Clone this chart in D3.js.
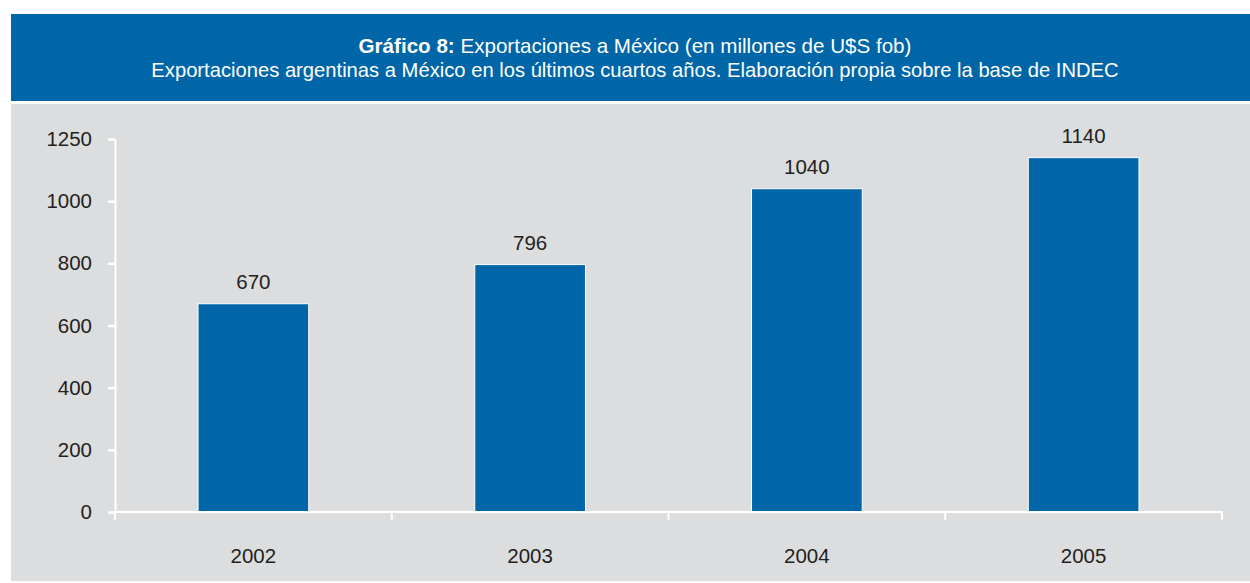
<!DOCTYPE html>
<html>
<head>
<meta charset="utf-8">
<script src="https://cdn.jsdelivr.net/npm/d3@7"></script>
<style>
  html, body { margin: 0; padding: 0; background: #ffffff; }
  svg { display: block; font-family: "Liberation Sans", Arial, Helvetica, sans-serif; }
</style>
</head>
<body>
<svg id="chart" width="1250" height="583"></svg>
<script>
// Exportaciones argentinas a México, millones de U$S fob
const years = ["2002", "2003", "2004", "2005"];
const exportValues = [670, 796, 1040, 1140];

// Value axis ticks (the top tick is labelled 1250)
const yTickValues = [0, 200, 400, 600, 800, 1000, 1200];
const yTickLabels = ["0", "200", "400", "600", "800", "1000", "1250"];

const titleBold = "Gráfico 8:";
const titleRest = " Exportaciones a México (en millones de U$S fob)";
const subtitle = "Exportaciones argentinas a México en los últimos cuartos años. Elaboración propia sobre la base de INDEC";

const BLUE = "#0066a8";
const PANEL = "#dcdddf";
const INK = "#231f20";

const svg = d3.select("#chart");

// Header band
svg.append("rect")
  .attr("x", 11).attr("y", 14)
  .attr("width", 1239).attr("height", 87)
  .attr("fill", BLUE);

const titleCx = 635;
const t1 = svg.append("text")
  .attr("x", titleCx).attr("y", 53)
  .attr("text-anchor", "middle")
  .attr("fill", "#ffffff")
  .attr("font-size", 20.6);
t1.append("tspan").attr("font-weight", "bold").text(titleBold);
t1.append("tspan").text(titleRest);

svg.append("text")
  .attr("x", titleCx).attr("y", 77)
  .attr("text-anchor", "middle")
  .attr("fill", "#ffffff")
  .attr("font-size", 20.2)
  .text(subtitle);

// Plot panel
svg.append("rect")
  .attr("x", 11).attr("y", 104)
  .attr("width", 1239).attr("height", 477)
  .attr("fill", PANEL);

// Scales
const x = d3.scaleBand()
  .domain(years)
  .range([115, 1222])
  .paddingInner(0.6)
  .paddingOuter(0.3);

const y = d3.scaleLinear()
  .domain([0, 1200])
  .range([512, 139]);

const rows = years.map((yr, i) => ({ yr, v: exportValues[i] }));

// Bars
svg.append("g")
  .selectAll("rect")
  .data(rows)
  .join("rect")
  .attr("x", d => x(d.yr))
  .attr("width", x.bandwidth())
  .attr("y", d => y(d.v))
  .attr("height", d => y(0) - y(d.v))
  .attr("fill", BLUE)
  .attr("stroke", "#ffffff")
  .attr("stroke-width", 1);

// Value labels
svg.append("g")
  .selectAll("text")
  .data(rows)
  .join("text")
  .attr("x", d => x(d.yr) + x.bandwidth() / 2)
  .attr("y", d => y(d.v) - 15)
  .attr("text-anchor", "middle")
  .attr("fill", INK)
  .attr("font-size", 20.5)
  .text(d => d.v);

// Y axis
const yAxis = d3.axisLeft(y)
  .tickValues(yTickValues)
  .tickFormat((d, i) => yTickLabels[i])
  .tickSize(7)
  .tickSizeOuter(0)
  .tickPadding(16);

const gy = svg.append("g")
  .attr("transform", "translate(115,0)")
  .call(yAxis);
gy.select(".domain").attr("stroke", "#ffffff").attr("stroke-width", 2);
gy.selectAll(".tick line").attr("stroke", "#ffffff").attr("stroke-width", 2.5);
gy.selectAll(".tick text")
  .attr("fill", INK)
  .attr("font-size", 20.5)
  .attr("font-family", "Liberation Sans, Arial, sans-serif");

// X axis: baseline with ticks at category boundaries
const [x0, x1] = x.range();
const boundaryStep = (x1 - x0) / years.length;
const gx = svg.append("g");
gx.append("line")
  .attr("x1", x0 - 1).attr("x2", x1 + 1)
  .attr("y1", y(0)).attr("y2", y(0))
  .attr("stroke", "#ffffff").attr("stroke-width", 2);
gx.selectAll("line.bound")
  .data(d3.range(years.length + 1))
  .join("line")
  .attr("class", "bound")
  .attr("x1", i => x0 + i * boundaryStep)
  .attr("x2", i => x0 + i * boundaryStep)
  .attr("y1", y(0))
  .attr("y2", y(0) + 8)
  .attr("stroke", "#ffffff").attr("stroke-width", 2);
gx.selectAll("text")
  .data(years)
  .join("text")
  .attr("x", d => x(d) + x.bandwidth() / 2)
  .attr("y", 563)
  .attr("text-anchor", "middle")
  .attr("fill", INK)
  .attr("font-size", 20.5)
  .text(d => d);
</script>
</body>
</html>
